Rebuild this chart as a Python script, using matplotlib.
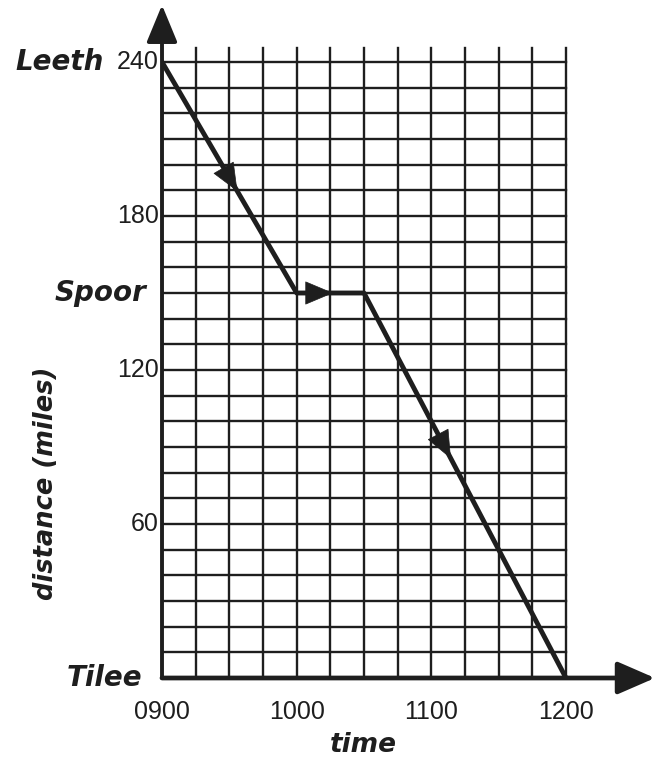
import matplotlib
matplotlib.use('Agg')
import matplotlib.pyplot as plt

# journey: time (hours) and distance from Tilee (miles)
times = [9.0, 10.0, 10.5, 12.0]
distance = [240, 150, 150, 0]

x_ticks = [9, 10, 11, 12]
x_tick_labels = ['0900', '1000', '1100', '1200']
y_ticks = [60, 120, 180, 240]
y_tick_labels = ['60', '120', '180', '240']
places = ['Tilee', 'Spoor', 'Leeth']
place_dist = [0, 150, 240]

INK = '#1e1e1e'
LABEL_FONT = dict(family='DejaVu Sans', style='italic', weight='bold')
NUM_FONT = dict(family='Liberation Sans')


def main():
    W, H = 661, 760
    fig = plt.figure(figsize=(W / 100, H / 100), dpi=100)
    fig.patch.set_facecolor('white')

    # pixel frame of the plotting area (0900 -> x=162, 1200 -> x=566; 0 -> y=678, 240 -> y=62)
    x0, x1 = 162, 566
    y0, y1 = 678, 62
    px_per_h = (x1 - x0) / 3.0
    px_per_mile = (y0 - y1) / 240.0
    right_px, top_px = 660, 0
    ax = fig.add_axes([x0 / W, (H - y0) / H, (right_px - x0) / W, (y0 - top_px) / H])
    ax.set_xlim(9, 9 + (right_px - x0) / px_per_h)
    ax.set_ylim(0, (y0 - top_px) / px_per_mile)
    ax.axis('off')

    # grid: quarter hours x 10 miles
    for i in range(13):
        t = 9 + i * 0.25
        ax.plot([t, t], [0, 245.5], color=INK, lw=1.7, zorder=1)
    for d in range(0, 250, 10):
        ax.plot([9, 12], [d, d], color=INK, lw=1.7, zorder=1)

    # axes with arrow heads
    y_tip = (y0 - 5) / px_per_mile
    x_tip = 9 + (655 - x0) / px_per_h
    ax.annotate('', xy=(9, y_tip), xytext=(9, 0),
                arrowprops=dict(arrowstyle='-|>,head_length=2.3,head_width=0.95',
                                mutation_scale=10, lw=2.8, color=INK,
                                shrinkA=0, shrinkB=0), zorder=3)
    ax.annotate('', xy=(x_tip, 0), xytext=(9, 0),
                arrowprops=dict(arrowstyle='-|>,head_length=2.3,head_width=1.0',
                                mutation_scale=10, lw=3.4, color=INK,
                                shrinkA=0, shrinkB=0), zorder=3)

    # journey line
    ax.plot(times, distance, color=INK, lw=3.5, solid_capstyle='round',
            solid_joinstyle='round', zorder=4)

    # direction arrows on each leg
    fracs = [0.56, 0.54, 0.43]
    for i, f in enumerate(fracs):
        ta, tb = times[i], times[i + 1]
        da, db = distance[i], distance[i + 1]
        tip = (ta + (tb - ta) * f, da + (db - da) * f)
        tail = (ta + (tb - ta) * (f - 0.1), da + (db - da) * (f - 0.1))
        ax.annotate('', xy=tip, xytext=tail,
                    arrowprops=dict(arrowstyle='-|>,head_length=1.9,head_width=0.8',
                                    mutation_scale=10, lw=0.5, color=INK,
                                    shrinkA=0, shrinkB=0), zorder=5)

    # tick labels
    for t, lab in zip(x_ticks, x_tick_labels):
        ax.text(t, -34 / px_per_mile, lab, ha='center', va='center',
                fontsize=18, color=INK, clip_on=False, **NUM_FONT)
    for d, lab in zip(y_ticks, y_tick_labels):
        ax.text(9 - 3 / px_per_h, d, lab, ha='right', va='center',
                fontsize=18, color=INK, clip_on=False, **NUM_FONT)

    # place names
    place_x = {'Leeth': 104, 'Spoor': 146, 'Tilee': 142}
    for name, d in zip(places, place_dist):
        ax.text(9 - (x0 - place_x[name]) / px_per_h, d, name, ha='right', va='center',
                fontsize=20, color=INK, clip_on=False, **LABEL_FONT)

    # axis titles
    ax.text(9 - (x0 - 46) / px_per_h, (y0 - 483) / px_per_mile, 'distance (miles)', rotation=90,
            ha='center', va='center', fontsize=18.5, color=INK, clip_on=False, **LABEL_FONT)
    ax.text(9 + (363 - x0) / px_per_h, -(745 - y0) / px_per_mile, 'time',
            ha='center', va='center', fontsize=19, color=INK, clip_on=False, **LABEL_FONT)

    fig.savefig('out.png', dpi=100, facecolor='white')


if __name__ == '__main__':
    main()
